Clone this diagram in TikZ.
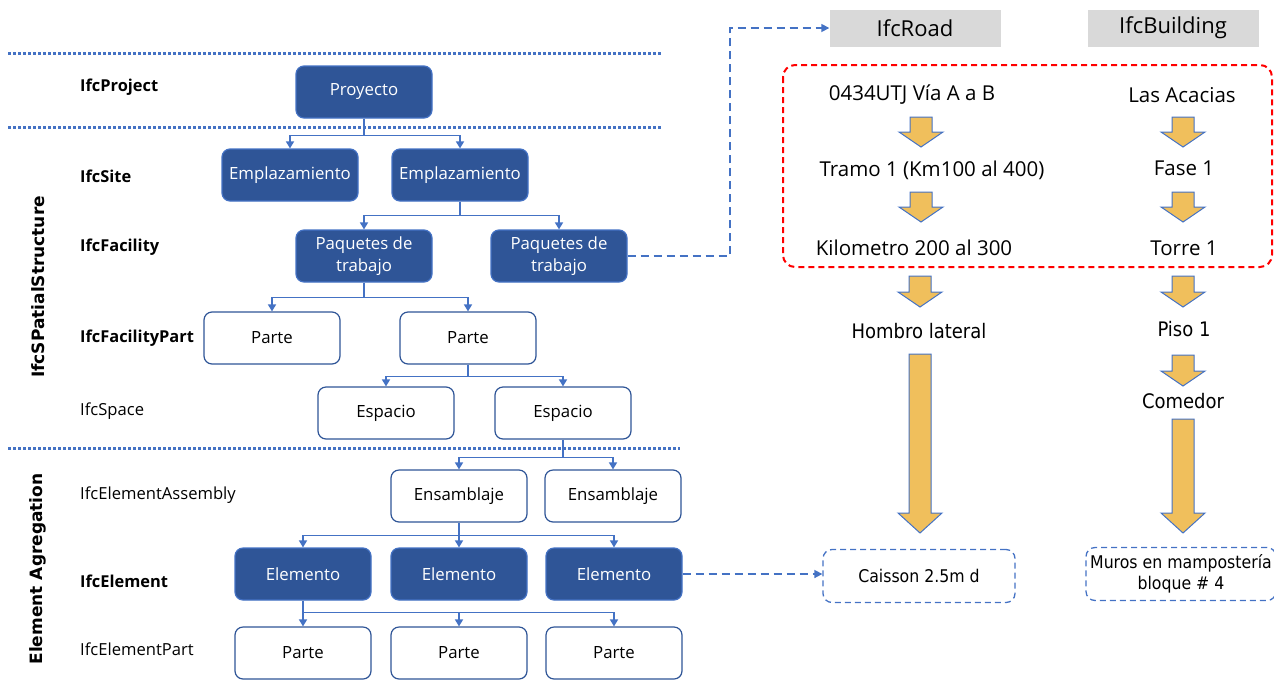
\documentclass[tikz,border=0pt]{standalone}
\usepackage{fontspec}
\setmainfont{Open Sans}
\newfontfamily\verd{DejaVu Sans}
\newfontfamily\verdc{DejaVu Sans Condensed}
\usetikzlibrary{arrows.meta}
\definecolor{dkblue}{HTML}{2F5597}
\definecolor{lnblue}{HTML}{4472C4}
\definecolor{gold}{HTML}{F0BF5C}
\definecolor{lgray}{HTML}{D9D9D9}
% block arrow: centre x, top y, y where the head starts, tip y
\newcommand{\blkarrow}[4]{%
  \filldraw[fill=gold, draw=lnblue, line width=1pt]
    ({#1-11},{#2}) -- ({#1+11},{#2}) -- ({#1+11},{#3}) -- ({#1+22},{#3})
    -- ({#1},{#4}) -- ({#1-22},{#3}) -- ({#1-11},{#3}) -- cycle;}
\begin{document}
\begin{tikzpicture}[x=1pt,y=-1pt,
  box/.style={rectangle, rounded corners=8pt, line width=1.2pt,
    minimum width=136pt, minimum height=52pt, inner sep=0pt, align=center,
    font=\fontsize{16.8}{22}\selectfont},
  dark/.style={box, fill=dkblue, draw=lnblue, text=white},
  light/.style={box, fill=white, draw=dkblue, text=black},
  lvl/.style={anchor=west, inner sep=0pt, font=\fontsize{16.6}{19}\selectfont},
  lvlb/.style={lvl, font=\fontsize{16.4}{19}\selectfont\bfseries},
  side/.style={rotate=90, inner sep=0pt, font=\verd\bfseries\fontsize{17}{19}\selectfont},
  sep/.style={draw=lnblue, line width=3pt, dash pattern=on 2.6pt off 2.4pt},
  conn/.style={draw=lnblue, line width=1.6pt},
  arr/.style={conn, -{Triangle[length=7pt,width=8pt]}},
  dashconn/.style={draw=lnblue, line width=1.6pt, dash pattern=on 8pt off 5pt,
    -{Triangle[length=8pt,width=8pt]}},
  tag/.style={fill=lgray, minimum width=171pt, minimum height=37pt, inner sep=0pt,
    font=\fontsize{22}{26}\selectfont},
  step txt/.style={inner sep=0pt, font=\fontsize{20.5}{24}\selectfont},
  low txt/.style={inner sep=0pt, font=\verdc\fontsize{20}{24}\selectfont},
  leaf/.style={rectangle, rounded corners=9pt, draw=lnblue, line width=1.3pt,
    dash pattern=on 6pt off 4pt, inner sep=0pt, align=center,
    minimum height=53pt, font=\verdc\fontsize{17.5}{21}\selectfont}
]
\useasboundingbox (0,0) rectangle (1274,689);

% level separators
\draw[sep] (8,53) -- (662,53);
\draw[sep] (8,127) -- (662,127);
\draw[sep] (8,448) -- (680,448);

% group titles
\node[side] (gss) at (38,287) {IfcSPatialStructure};
\node[side] (gea) at (38,569) {Element Agregation};

% level names
\node[lvlb] (lproj) at (80,87) {IfcProject};
\node[lvlb] (lsite) at (80,176) {IfcSite};
\node[lvlb] (lfac) at (80,247) {IfcFacility};
\node[lvlb] (lfp) at (80,338) {IfcFacilityPart};
\node[lvl] (lsp) at (80,411) {IfcSpace};
\node[lvl] (lea) at (80,495) {IfcElementAssembly};
\node[lvlb] (lel) at (80,581) {IfcElement};
\node[lvl] (lep) at (80,649) {IfcElementPart};

% hierarchy boxes
\node[dark] (proj) at (364,92) {Proyecto};
\node[dark] (site1) at (290,175) {Emplazamiento};
\node[dark] (site2) at (460,175) {Emplazamiento};
\node[dark] (pq1) at (364,256) {Paquetes de\\trabajo};
\node[dark] (pq2) at (559,256) {Paquetes de\\trabajo};
\node[light] (pt1) at (272,338) {Parte};
\node[light] (pt2) at (468,338) {Parte};
\node[light] (es1) at (386,413) {Espacio};
\node[light] (es2) at (563,413) {Espacio};
\node[light] (en1) at (459,496) {Ensamblaje};
\node[light] (en2) at (613,496) {Ensamblaje};
\node[dark] (el1) at (303,574) {Elemento};
\node[dark] (el2) at (459,574) {Elemento};
\node[dark] (el3) at (614,574) {Elemento};
\node[light] (ep1) at (303,653) {Parte};
\node[light] (ep2) at (459,653) {Parte};
\node[light] (ep3) at (614,653) {Parte};

% tree connectors
\draw[conn] (proj.south) -- ++(0,17) coordinate (b1);
\draw[arr] (b1) -| (site1.north);
\draw[arr] (b1) -| (site2.north);
\draw[conn] (site2.south) -- ++(0,14) coordinate (b2);
\draw[arr] (b2) -| (pq1.north);
\draw[arr] (b2) -| (pq2.north);
\draw[conn] (pq1.south) -- ++(0,15) coordinate (b3);
\draw[arr] (b3) -| (pt1.north);
\draw[arr] (b3) -| (pt2.north);
\draw[conn] (pt2.south) -- ++(0,12) coordinate (b4);
\draw[arr] (b4) -| (es1.north);
\draw[arr] (b4) -| (es2.north);
\draw[conn] (es2.south) -- ++(0,18) coordinate (b5);
\draw[arr] (b5) -| (en1.north);
\draw[arr] (b5) -| (en2.north);
\draw[conn] (en1.south) -- ++(0,13) coordinate (b6);
\draw[arr] (b6) -| (el1.north);
\draw[arr] (b6) -- (el2.north);
\draw[arr] (b6) -| (el3.north);
\draw[conn] (el1.south) -- ++(0,12) coordinate (b7);
\draw[arr] (b7) -- (ep1.north);
\draw[arr] (b7) -| (ep2.north);
\draw[arr] (b7) -| (ep3.north);

% facility types
\node[tag] (road) at (915,28) {IfcRoad};
\node[tag] (bld) at (1173,28) {IfcBuilding};

\coordinate (turn) at (730,0);
\draw[dashconn] (pq2.east) -- (pq2.east -| turn) |- (road.west);

% spatial breakdown of each facility
\draw[red, line width=2pt, dash pattern=on 6pt off 4pt, rounded corners=12pt]
  (783,65) rectangle (1272,267);

\node[step txt] (r1) at (912,95) {0434UTJ Vía A a B};
\node[step txt] (r2) at (932,170) {Tramo 1 (Km100 al 400)};
\node[step txt] (r3) at (914,248) {Kilometro 200 al 300};
\node[low txt] (r4) at (919,331) {Hombro lateral};
\node[step txt] (b1t) at (1182,95) {Las Acacias};
\node[step txt] (b2t) at (1184,168) {Fase 1};
\node[step txt] (b3t) at (1184,248) {Torre 1};
\node[low txt] (b4t) at (1184,329) {Piso 1};
\node[low txt] (b5t) at (1183,401) {Comedor};

\blkarrow{921}{117}{132}{147}
\blkarrow{921}{192}{207}{222}
\blkarrow{920}{276}{292}{307}
\blkarrow{920}{354}{513}{533}
\blkarrow{1183}{117}{132}{147}
\blkarrow{1183}{192}{207}{222}
\blkarrow{1183}{276}{292}{307}
\blkarrow{1183}{355}{371}{386}
\blkarrow{1183}{419}{513}{533}

\node[leaf, minimum width=192pt] (cais) at (919,576) {Caisson 2.5m d};
\node[leaf, minimum width=190pt] (muro) at (1181,574) {Muros en mampostería\\bloque \# 4};

\draw[dashconn] (el3.east) -- (el3.east -| cais.west);
\end{tikzpicture}
\end{document}
